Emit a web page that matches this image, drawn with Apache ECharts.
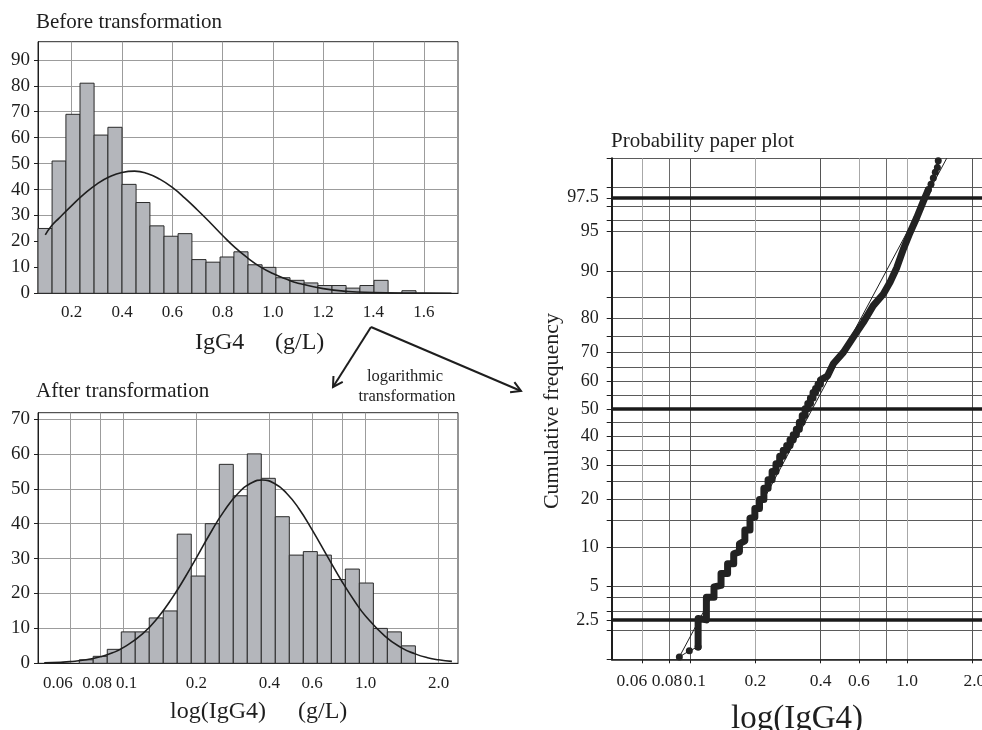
<!DOCTYPE html>
<html>
<head>
<meta charset="utf-8">
<title>IgG4 before / after log transformation</title>
<script src="https://cdn.jsdelivr.net/npm/echarts@6/dist/echarts.min.js"></script>
<style>
html, body { margin: 0; padding: 0; background: #fff; }
#chart { width: 982px; height: 730px; }
</style>
</head>
<body>
<div id="chart"></div>
<script>
// ---- before transformation (g/L, linear)
var rawBinEdges = [0.066, 0.122, 0.177, 0.233, 0.289, 0.344, 0.400, 0.456, 0.511, 0.567, 0.623, 0.678, 0.734, 0.790,
    0.845, 0.901, 0.957, 1.012, 1.068, 1.124, 1.179, 1.235, 1.291, 1.346, 1.402, 1.458, 1.513, 1.569];
var rawCounts = [25, 51, 69, 81, 61, 64, 42, 35, 26, 22, 23, 13, 12, 14, 16, 11, 10, 6, 5, 4, 3, 3, 2, 3, 5, 0, 1];
var rawCurveX = [0.095, 0.12, 0.15, 0.2, 0.25, 0.3, 0.35, 0.4, 0.45, 0.5, 0.55, 0.6, 0.65, 0.7, 0.75, 0.8,
    0.85, 0.9, 0.95, 1.0, 1.05, 1.1, 1.2, 1.3, 1.4, 1.5, 1.6, 1.71];
var rawCurveY = [22.5, 26.0, 29.0, 33.8, 38.3, 42.1, 44.9, 46.6, 47.1, 46.2, 44.0, 40.8, 36.7, 32.1, 27.3, 22.3,
    17.6, 13.6, 10.2, 7.6, 5.6, 3.9, 1.8, 0.7, 0.3, 0.1, 0.05, 0.02];
var rawTicks = [0.2, 0.4, 0.6, 0.8, 1.0, 1.2, 1.4, 1.6];
var rawCountTicks = [0, 10, 20, 30, 40, 50, 60, 70, 80, 90];

// ---- after transformation (g/L, log scale)
var logBinEdges = [0.0656, 0.0749, 0.0856, 0.0978, 0.1117, 0.1276, 0.1458, 0.1665, 0.1903, 0.2174, 0.2484, 0.2838,
    0.3242, 0.3704, 0.4232, 0.4835, 0.5524, 0.6311, 0.7211, 0.8238, 0.9412, 1.0753, 1.2285, 1.4036, 1.6036];
var logCounts = [1, 2, 4, 9, 9, 13, 15, 37, 25, 40, 57, 48, 60, 53, 42, 31, 32, 31, 24, 27, 23, 10, 9, 5];
var logCurveX = [0.047, 0.055, 0.06, 0.07, 0.08, 0.09, 0.1, 0.12, 0.14, 0.16, 0.18, 0.2, 0.23, 0.26, 0.3, 0.34,
    0.374, 0.42, 0.47, 0.53, 0.6, 0.7, 0.8, 0.9, 1.0, 1.2, 1.4, 1.6, 1.8, 2.0, 2.27];
var logCurveY = [0.12, 0.3, 0.47, 1.0, 1.85, 3.0, 4.55, 8.5, 13.5, 19.1, 24.8, 30.3, 37.7, 43.6, 49.0, 51.8,
    52.5, 51.5, 48.8, 44.3, 38.3, 30.2, 23.3, 17.8, 13.5, 7.8, 4.5, 2.7, 1.6, 1.0, 0.55];
var logCountTicks = [0, 10, 20, 30, 40, 50, 60, 70];
var logTicks = [0.06, 0.08, 0.1, 0.2, 0.4, 0.6, 1.0, 2.0];
var logTickText = ['0.06', '0.08', '0.1', '0.2', '0.4', '0.6', '1.0', '2.0'];
var logGrid = [0.06, 0.08, 0.1, 0.2, 0.4, 0.6, 0.8, 1.0, 2.0];

// ---- probability paper plot (cumulative %)
var cumLowX = [0.0893, 0.0993, 0.109];
var cumLowY = [1.06, 1.23, 1.35];
var cumStepX = [0.109, 0.119, 0.129, 0.139, 0.149, 0.159, 0.169, 0.179, 0.189, 0.199, 0.209, 0.219, 0.229, 0.239,
    0.249, 0.259, 0.269, 0.279, 0.289, 0.299, 0.309, 0.319, 0.329, 0.339, 0.349, 0.359, 0.369, 0.379, 0.389, 0.399];
var cumStepLo = [1.35, 2.5, 4.0, 5.05, 6.3, 7.5, 9.2, 11.0, 13.0, 15.7, 17.7, 20.0, 23.0, 25.5,
    28.0, 30.5, 33.0, 35.0, 36.7, 38.7, 40.5, 42.5, 45.0, 47.5, 50.0, 52.0, 54.0, 56.0, 57.5, 59.0];
var cumStepHi = [2.57, 4.0, 4.9, 6.3, 7.5, 8.9, 10.5, 13.0, 15.5, 17.7, 20.0, 23.0, 25.5, 28.0,
    30.5, 33.0, 35.0, 36.7, 38.7, 40.5, 42.5, 45.0, 47.5, 50.0, 52.0, 54.0, 56.0, 57.5, 59.0, 60.5];
var cumUpX = [0.43, 0.4575, 0.509, 0.566, 0.629, 0.699, 0.778, 0.835, 0.897, 0.962, 1.032, 1.108, 1.189, 1.253];
var cumUpY = [62.0, 66.2, 70.0, 74.7, 78.9, 83.1, 85.7, 88.0, 90.5, 93.1, 94.9, 96.2, 97.3, 97.9];
var cumTopX = [1.253, 1.29, 1.322, 1.35, 1.38, 1.393];
var cumTopY = [97.9, 98.15, 98.4, 98.6, 98.75, 98.94];
var fitX = [0.0893, 1.524];
var fitY = [1.06, 99];
var refPct = [2.5, 50, 97.5];
var pctGrid = [1, 2, 2.5, 3, 4, 5, 10, 15, 20, 25, 30, 35, 40, 45, 50, 55, 60, 65, 70, 75, 80, 85, 90, 95, 96, 97, 97.5, 98, 99];
var pctLabels = [2.5, 5, 10, 20, 30, 40, 50, 60, 70, 80, 90, 95, 97.5];

// label nudges (px, + = right) so the crowded low log labels sit like the original
var histLogNudge = [-12, -3, 3, 0, 0, 0, 0, 0];
var probLogNudge = [-10, -2, 5, 0, 0, 0, 0, 2];

// inverse normal CDF (Acklam) -> probability paper scale
function probit(p) {
    var a = [-39.69683028665376, 220.9460984245205, -275.9285104469687, 138.3577518672690, -30.66479806614716, 2.506628277459239];
    var b = [-54.47609879822406, 161.5858368580409, -155.6989798598866, 66.80131188771972, -13.28068155288572];
    var c = [-0.007784894002430293, -0.3223964580411365, -2.400758277161838, -2.549732293138124, 4.374664141464968, 2.938163982698783];
    var d = [0.007784695709041462, 0.3224671290700398, 2.445134137142996, 3.754408661907416];
    var q, r;
    if (p < 0.02425) {
        q = Math.sqrt(-2 * Math.log(p));
        return (((((c[0] * q + c[1]) * q + c[2]) * q + c[3]) * q + c[4]) * q + c[5]) / ((((d[0] * q + d[1]) * q + d[2]) * q + d[3]) * q + 1);
    }
    if (p > 1 - 0.02425) {
        q = Math.sqrt(-2 * Math.log(1 - p));
        return -(((((c[0] * q + c[1]) * q + c[2]) * q + c[3]) * q + c[4]) * q + c[5]) / ((((d[0] * q + d[1]) * q + d[2]) * q + d[3]) * q + 1);
    }
    q = p - 0.5;
    r = q * q;
    return (((((a[0] * r + a[1]) * r + a[2]) * r + a[3]) * r + a[4]) * r + a[5]) * q / (((((b[0] * r + b[1]) * r + b[2]) * r + b[3]) * r + b[4]) * r + 1);
}
function pz(pct) { return probit(pct / 100); }

var serif = '"Liberation Serif", "Times New Roman", serif';
var ink = '#1e1e1e';

function histData(edges, counts) {
    return counts.map(function (c, i) { return [edges[i], edges[i + 1], c]; });
}
function pairs(xs, ys) {
    return xs.map(function (x, i) { return [x, ys[i]]; });
}
function histItem(params, api) {
    var p0 = api.coord([api.value(0), api.value(2)]);
    var p1 = api.coord([api.value(1), 0]);
    return {
        type: 'rect',
        shape: { x: p0[0], y: p0[1], width: p1[0] - p0[0], height: p1[1] - p0[1] },
        style: { fill: '#b4b6bb', stroke: '#2a2a2a', lineWidth: 1 }
    };
}
// log axis labels, nudged with rich-text padding
function logLabelRich(nudge, size) {
    var rich = {};
    logTicks.forEach(function (t, i) {
        var n = nudge[i];
        rich['t' + i] = {
            fontFamily: serif, fontSize: size, color: ink,
            padding: n < 0 ? [0, -2 * n, 0, 0] : [0, 0, 0, 2 * n]
        };
    });
    return {
        rich: rich,
        formatter: function (v) {
            for (var i = 0; i < logTicks.length; i++) {
                if (Math.abs(logTicks[i] - v) < 1e-6) return '{t' + i + '|' + logTickText[i] + '}';
            }
            return '';
        }
    };
}
function pctLabel(v) {
    for (var i = 0; i < pctLabels.length; i++) {
        if (Math.abs(pz(pctLabels[i]) - v) < 1e-6) return String(pctLabels[i]);
    }
    return '';
}

var stepData = [];
cumStepX.forEach(function (x, i) {
    stepData.push([x, pz(cumStepLo[i])]);
    stepData.push([x, pz(cumStepHi[i])]);
});
cumUpX.forEach(function (x, i) { stepData.push([x, pz(cumUpY[i])]); });

var labelFont = { fontFamily: serif, color: ink };
var histLogLabels = logLabelRich(histLogNudge, 17);
var probLogLabels = logLabelRich(probLogNudge, 17.5);

// arrow helper for the annotation graphics
function arrow(x0, y0, x1, y1) {
    var dx = x1 - x0, dy = y1 - y0, len = Math.sqrt(dx * dx + dy * dy);
    var bx = -dx / len, by = -dy / len, h = 11, a = Math.PI / 6;
    var w1 = [x1 + h * (bx * Math.cos(a) - by * Math.sin(a)), y1 + h * (bx * Math.sin(a) + by * Math.cos(a))];
    var w2 = [x1 + h * (bx * Math.cos(a) + by * Math.sin(a)), y1 + h * (-bx * Math.sin(a) + by * Math.cos(a))];
    return [
        { type: 'line', shape: { x1: x0, y1: y0, x2: x1, y2: y1 }, style: { stroke: ink, lineWidth: 2 } },
        { type: 'polyline', shape: { points: [w1, [x1, y1], w2] }, style: { stroke: ink, lineWidth: 2, fill: null } }
    ];
}

var chart = echarts.init(document.getElementById('chart'));

var graphics = [
    { type: 'text', x: 36, y: 22, style: { text: 'Before transformation', font: '21px ' + serif, fill: ink, verticalAlign: 'middle' } },
    { type: 'text', x: 195, y: 343, style: { text: 'IgG4', font: '24px ' + serif, fill: ink, verticalAlign: 'middle' } },
    { type: 'text', x: 275, y: 343, style: { text: '(g/L)', font: '24px ' + serif, fill: ink, verticalAlign: 'middle' } },
    { type: 'text', x: 36, y: 391, style: { text: 'After transformation', font: '21px ' + serif, fill: ink, verticalAlign: 'middle' } },
    { type: 'text', x: 170, y: 712, style: { text: 'log(IgG4)', font: '24px ' + serif, fill: ink, verticalAlign: 'middle' } },
    { type: 'text', x: 298, y: 712, style: { text: '(g/L)', font: '24px ' + serif, fill: ink, verticalAlign: 'middle' } },
    { type: 'text', x: 611, y: 141, style: { text: 'Probability paper plot', font: '21px ' + serif, fill: ink, verticalAlign: 'middle' } },
    { type: 'text', x: 797, y: 719, style: { text: 'log(IgG4)', font: '33px ' + serif, fill: ink, align: 'center', verticalAlign: 'middle' } },
    { type: 'text', x: 552, y: 411, rotation: Math.PI / 2, style: { text: 'Cumulative frequency', font: '22px ' + serif, fill: ink, align: 'center', verticalAlign: 'middle' } },
    { type: 'text', x: 405, y: 377, style: { text: 'logarithmic', font: '16.5px ' + serif, fill: ink, align: 'center', verticalAlign: 'middle' } },
    { type: 'text', x: 407, y: 397, style: { text: 'transformation', font: '16.5px ' + serif, fill: ink, align: 'center', verticalAlign: 'middle' } }
].concat(arrow(371, 327, 333, 387), arrow(371, 327, 521, 391));

chart.setOption({
    animation: false,
    backgroundColor: '#fff',
    graphic: graphics,
    grid: [
        { left: 38, top: 41.7, width: 420, height: 251.6, show: true, borderColor: '#2a2a2a', borderWidth: 1, outerBoundsMode: 'none' },
        { left: 38, top: 412.7, width: 420, height: 250.6, show: true, borderColor: '#2a2a2a', borderWidth: 1, outerBoundsMode: 'none' },
        { left: 611.7, top: 158.3, width: 370.3, height: 501, outerBoundsMode: 'none' }
    ],
    xAxis: [
        {
            type: 'value', gridIndex: 0, min: 0.066, max: 1.736,
            axisLine: { show: true, onZero: false, lineStyle: { color: ink } },
            axisTick: { show: false, customValues: rawTicks },
            axisLabel: Object.assign({ customValues: rawTicks, fontSize: 17, margin: 11, formatter: function (v) { return v.toFixed(1); } }, labelFont),
            splitLine: { show: true, lineStyle: { color: '#9c9c9c', width: 1 } }
        },
        {
            type: 'log', logBase: 10, gridIndex: 1, min: 0.0443, max: 2.405,
            axisLine: { show: true, onZero: false, lineStyle: { color: ink } },
            axisTick: { show: false, customValues: logGrid },
            axisLabel: Object.assign({
                customValues: logTicks, fontSize: 17, margin: 12, showMinLabel: true, showMaxLabel: true,
                hideOverlap: false, formatter: histLogLabels.formatter, rich: histLogLabels.rich
            }, labelFont),
            splitLine: { show: true, lineStyle: { color: '#9c9c9c', width: 1 } }
        },
        {
            type: 'log', logBase: 10, gridIndex: 2, min: 0.04357, max: 2.216,
            axisLine: { show: true, onZero: false, lineStyle: { color: ink, width: 1.5 } },
            axisTick: { show: true, length: 4, customValues: logGrid, lineStyle: { color: ink } },
            axisLabel: Object.assign({
                customValues: logTicks, fontSize: 17.5, margin: 13, showMinLabel: true, showMaxLabel: true,
                hideOverlap: false, formatter: probLogLabels.formatter, rich: probLogLabels.rich
            }, labelFont),
            splitLine: { show: true, lineStyle: { color: ['#a8a8a8', '#6a6a6a', '#555', '#a8a8a8', '#555', '#a8a8a8', '#6a6a6a', '#a8a8a8', '#555'], width: 1 } }
        }
    ],
    yAxis: [
        {
            type: 'value', gridIndex: 0, min: 0, max: 97,
            axisLine: { show: true, onZero: false, lineStyle: { color: ink } },
            axisTick: { show: true, length: 4, customValues: rawCountTicks, lineStyle: { color: ink } },
            axisLabel: Object.assign({ customValues: rawCountTicks, fontSize: 19, margin: 8 }, labelFont),
            splitLine: { show: true, lineStyle: { color: '#9c9c9c', width: 1 } }
        },
        {
            type: 'value', gridIndex: 1, min: 0, max: 71.8,
            axisLine: { show: true, onZero: false, lineStyle: { color: ink } },
            axisTick: { show: true, length: 4, customValues: logCountTicks, lineStyle: { color: ink } },
            axisLabel: Object.assign({ customValues: logCountTicks, fontSize: 19, margin: 8 }, labelFont),
            splitLine: { show: true, lineStyle: { color: '#9c9c9c', width: 1 } }
        },
        {
            type: 'value', gridIndex: 2, min: pz(1), max: pz(99),
            axisLine: { show: true, onZero: false, lineStyle: { color: ink, width: 2 } },
            axisTick: { show: true, length: 5, customValues: pctGrid.map(pz), lineStyle: { color: ink } },
            axisLabel: Object.assign({ customValues: pctLabels.map(pz), fontSize: 18, margin: 13, formatter: pctLabel }, labelFont),
            splitLine: { show: true, lineStyle: { color: '#5a5a5a', width: 1 } }
        }
    ],
    series: [
        {
            type: 'custom', xAxisIndex: 0, yAxisIndex: 0, renderItem: histItem,
            encode: { x: [0, 1], y: 2 }, data: histData(rawBinEdges, rawCounts), z: 2
        },
        {
            type: 'line', xAxisIndex: 0, yAxisIndex: 0, smooth: true, showSymbol: false, z: 3,
            lineStyle: { color: ink, width: 1.6 }, data: pairs(rawCurveX, rawCurveY)
        },
        {
            type: 'custom', xAxisIndex: 1, yAxisIndex: 1, renderItem: histItem,
            encode: { x: [0, 1], y: 2 }, data: histData(logBinEdges, logCounts), z: 2
        },
        {
            type: 'line', xAxisIndex: 1, yAxisIndex: 1, smooth: true, showSymbol: false, z: 3,
            lineStyle: { color: ink, width: 1.6 }, data: pairs(logCurveX, logCurveY)
        },
        {
            // fitted normal line + reference percentiles
            type: 'line', xAxisIndex: 2, yAxisIndex: 2, showSymbol: false, z: 4,
            lineStyle: { color: ink, width: 1 },
            data: fitX.map(function (x, i) { return [x, pz(fitY[i])]; }),
            markLine: {
                silent: true, symbol: ['none', 'none'], label: { show: false },
                lineStyle: { color: '#1a1a1a', width: 3.5, type: 'solid' },
                data: refPct.map(function (p) { return { yAxis: pz(p) }; })
            }
        },
        {
            type: 'line', xAxisIndex: 2, yAxisIndex: 2, showSymbol: false, z: 5,
            lineStyle: { color: '#222', width: 7, cap: 'round', join: 'round' },
            data: stepData
        },
        {
            type: 'line', xAxisIndex: 2, yAxisIndex: 2, symbol: 'circle', symbolSize: 7, z: 6,
            itemStyle: { color: '#222' }, lineStyle: { color: '#222', width: 1 },
            data: cumLowX.map(function (x, i) { return [x, pz(cumLowY[i])]; })
        },
        {
            type: 'line', xAxisIndex: 2, yAxisIndex: 2, symbol: 'circle', symbolSize: 7, z: 6,
            itemStyle: { color: '#222' }, lineStyle: { color: '#222', width: 3 },
            data: cumTopX.map(function (x, i) { return [x, pz(cumTopY[i])]; })
        }
    ]
});
</script>
</body>
</html>
